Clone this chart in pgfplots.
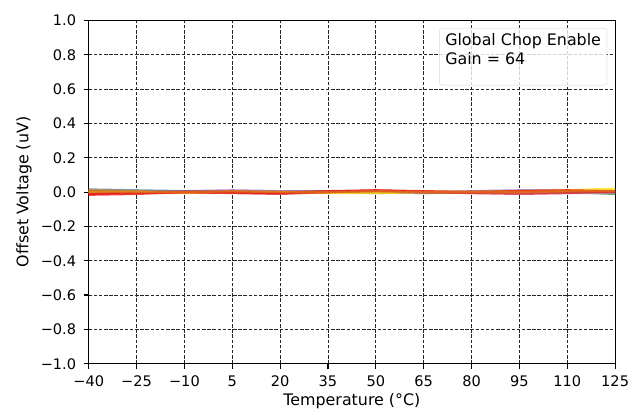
\documentclass[border=0pt]{standalone}
\usepackage{fontspec}
\setmainfont{DejaVu Sans}
\usepackage{pgfplots}
\pgfplotsset{compat=1.18}

\definecolor{tblue}{HTML}{1F77B4}
\definecolor{torange}{HTML}{FF7F0E}
\definecolor{tgreen}{HTML}{2CA02C}
\definecolor{tred}{HTML}{D62728}
\definecolor{tpurple}{HTML}{9467BD}
\definecolor{tbrown}{HTML}{8C564B}
\definecolor{tpink}{HTML}{E377C2}
\definecolor{tyellow}{HTML}{FFE000}
\definecolor{lred}{HTML}{F01010}

\begin{document}
\begin{tikzpicture}
\begin{axis}[
  scale only axis,
  width=398pt, height=259.5pt,
  xmin=-40, xmax=125, ymin=-1, ymax=1,
  xtick={-40,-25,...,125},
  xticklabels={−40,−25,−10,5,20,35,50,65,80,95,110,125},
  ytick={-1,-0.8,...,1.01},
  yticklabels={−1.0,−0.8,−0.6,−0.4,−0.2,0.0,0.2,0.4,0.6,0.8,1.0},
  tick label style={font=\fontsize{11}{13}\selectfont},
  yticklabel style={xshift=-2.2pt},
  xticklabel style={yshift=-1.8pt},
  label style={font=\fontsize{12}{14}\selectfont},
  xlabel={Temperature (°C)},
  ylabel={Offset Voltage (uV)},
  xlabel style={yshift=2pt},
  ylabel style={yshift=0pt},
  grid=major,
  major grid style={black!85, dash pattern=on 2.6pt off 1.3pt, line width=0.6pt},
  tick align=outside,
  xtick pos=bottom, ytick pos=left,
  major tick length=3.8pt,
  axis line style={black, line width=0.9pt},
  every tick/.style={black, line width=0.9pt},
  every axis plot/.append style={line width=1.8pt, opacity=0.75, line join=round},
  clip=true,
]
\addplot[tblue!60!gray] coordinates {(-40,0.015)(-25,0.01)(-10,0.005)(5,0.0)(20,0.0)(35,0.0)(50,-0.005)(65,0.0)(80,0.0)(95,0.005)(110,0.0)(125,-0.005)};
\addplot[torange] coordinates {(-40,0.01)(-25,0.005)(-10,0.0)(5,0.0)(20,0.0)(35,0.0)(50,0.0)(65,0.0)(80,0.0)(95,0.005)(110,0.005)(125,0.0)};
\addplot[tgreen] coordinates {(-40,0.005)(-25,0.0)(-10,0.005)(5,0.005)(20,0.0)(35,0.005)(50,0.0)(65,-0.005)(80,0.0)(95,0.0)(110,0.0)(125,-0.01)};
\addplot[tpurple] coordinates {(-40,0.0)(-25,0.0)(-10,0.005)(5,0.01)(20,0.005)(35,0.005)(50,0.0)(65,-0.005)(80,0.005)(95,0.01)(110,0.01)(125,0.0)};
\addplot[tpink] coordinates {(-40,-0.005)(-25,0.0)(-10,0.0)(5,0.0)(20,-0.005)(35,0.0)(50,0.0)(65,0.0)(80,-0.005)(95,-0.005)(110,-0.005)(125,-0.005)};
\addplot[tbrown] coordinates {(-40,0.0)(-25,0.0)(-10,0.0)(5,0.0)(20,0.0)(35,0.0)(50,0.005)(65,0.0)(80,0.0)(95,0.005)(110,0.005)(125,0.0)};
\addplot[tyellow] coordinates {(-40,0.0)(-25,0.0)(-10,-0.005)(5,0.0)(20,0.0)(35,-0.005)(50,-0.005)(65,0.0)(80,0.0)(95,0.005)(110,0.01)(125,0.02)};
\addplot[tred] coordinates {(-40,-0.01)(-25,-0.005)(-10,0.0)(5,-0.005)(20,-0.01)(35,0.0)(50,0.01)(65,0.0)(80,-0.005)(95,-0.01)(110,-0.005)(125,0.005)};
\addplot[lred] coordinates {(-40,-0.015)(-25,-0.01)(-10,0.0)(5,0.0)(20,-0.005)(35,0.005)(50,0.01)(65,0.005)(80,0.0)(95,0.005)(110,0.01)(125,0.005)};
\addplot[torange!70!tbrown] coordinates {(-40,0.005)(-25,0.0)(-10,0.0)(5,0.005)(20,0.0)(35,0.0)(50,0.005)(65,0.0)(80,0.0)(95,0.0)(110,0.005)(125,0.005)};
\node[draw=black!15, rounded corners=2pt, fill=white, fill opacity=0.8, text opacity=1,
      anchor=north east, align=left, font=\fontsize{12}{14}\selectfont,
      inner xsep=4.5pt, inner ysep=4pt, text depth=12pt]
  at ([xshift=-6pt,yshift=-5.6pt]rel axis cs:1,1) {Global Chop Enable\\Gain = 64};
\end{axis}
% white margin round the figure
\path ([shift={(-9pt,-2pt)}]current bounding box.south west)
      rectangle ([shift={(8pt,8pt)}]current bounding box.north east);
\end{tikzpicture}
\end{document}
